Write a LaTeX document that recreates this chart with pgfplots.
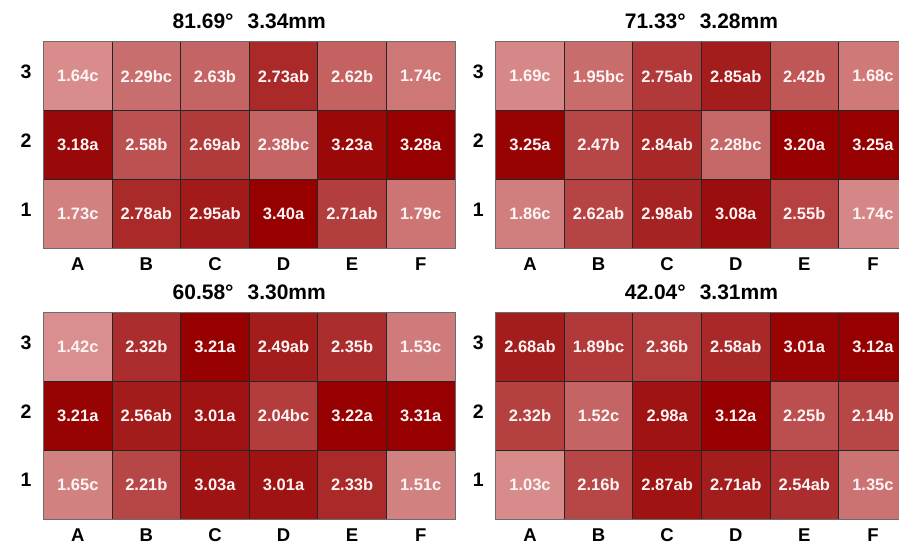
\documentclass[border=0pt]{standalone}
\usepackage{pgfplots}
\pgfplotsset{compat=1.18}
\usepackage{pgfplotstable}
\usepackage{fontspec}
\setmainfont{Liberation Sans}

\pgfplotstableread{
x y v g s
0 1 1.73 c 0.10
1 1 2.78 ab 0.70
2 1 2.95 ab 0.81
3 1 3.40 a 1.00
4 1 2.71 ab 0.56
5 1 1.79 c 0.18
0 2 3.18 a 0.93
1 2 2.58 b 0.43
2 2 2.69 ab 0.59
3 2 2.38 bc 0.30
4 2 3.23 a 0.94
5 2 3.28 a 1.00
0 3 1.64 c 0.02
1 3 2.29 bc 0.23
2 3 2.63 b 0.30
3 3 2.73 ab 0.70
4 3 2.62 b 0.31
5 3 1.74 c 0.17
}\tabA

\pgfplotstableread{
x y v g s
0 1 1.86 c 0.12
1 1 2.62 ab 0.52
2 1 2.98 ab 0.75
3 1 3.08 a 0.90
4 1 2.55 b 0.54
5 1 1.74 c 0.06
0 2 3.25 a 0.98
1 2 2.47 b 0.50
2 2 2.84 ab 0.72
3 2 2.28 bc 0.27
4 2 3.20 a 1.00
5 2 3.25 a 1.00
0 3 1.69 c 0.05
1 3 1.95 bc 0.24
2 3 2.75 ab 0.60
3 3 2.85 ab 0.79
4 3 2.42 b 0.39
5 3 1.68 c 0.15
}\tabB

\pgfplotstableread{
x y v g s
0 1 1.65 c 0.10
1 1 2.21 b 0.50
2 1 3.03 a 0.86
3 1 3.01 a 0.86
4 1 2.33 b 0.70
5 1 1.51 c 0.10
0 2 3.21 a 0.98
1 2 2.56 ab 0.80
2 2 3.01 a 0.87
3 2 2.04 bc 0.57
4 2 3.22 a 1.00
5 2 3.31 a 1.00
0 3 1.42 c 0.00
1 3 2.32 b 0.68
2 3 3.21 a 1.00
3 3 2.49 ab 0.79
4 3 2.35 b 0.68
5 3 1.53 c 0.14
}\tabC

\pgfplotstableread{
x y v g s
0 1 1.03 c 0.03
1 1 2.16 b 0.50
2 1 2.87 ab 0.86
3 1 2.71 ab 0.79
4 1 2.54 ab 0.68
5 1 1.35 c 0.20
0 2 2.32 b 0.55
1 2 1.52 c 0.30
2 2 2.98 a 0.86
3 2 3.12 a 1.00
4 2 2.25 b 0.45
5 2 2.14 b 0.50
0 3 2.68 ab 0.79
1 3 1.89 bc 0.60
2 3 2.36 b 0.58
3 3 2.58 ab 0.71
4 3 3.01 a 0.97
5 3 3.12 a 1.00
}\tabD

\pgfplotsset{
  /pgf/number format/assume math mode=true,
  colormap={reds}{rgb255(0cm)=(217,143,143); rgb255(1cm)=(150,0,0)},
  hm/.style={
    width=411.5pt, height=206.6pt, scale only axis, anchor=south west,
    xmin=-0.5, xmax=5.5, ymin=0.5, ymax=3.5,
    xtick={0,1,2,3,4,5}, xticklabels={A,B,C,D,E,F},
    ytick={1,2,3}, yticklabels={1,2,3},
    major tick length=0pt, minor tick length=0pt,
    tick style={draw=none},
    minor xtick={0.5,1.5,2.5,3.5,4.5}, minor ytick={1.5,2.5},
    xminorgrids, yminorgrids,
    minor grid style={draw=black!85, line width=0.8pt},
    axis on top,
    axis line style={draw=gray!85!black, line width=0.8pt},
    point meta min=0, point meta max=1,
    colormap name=reds,
    ticklabel style={font=\bfseries\fontsize{18.5}{20}\selectfont},
    xticklabel style={anchor=base, yshift=-22.7pt},
    yticklabel style={font=\bfseries\fontsize{19.5}{21}\selectfont, anchor=east, xshift=-8.5pt, yshift=4.5pt},
    title style={font=\bfseries\fontsize{21}{24}\selectfont, anchor=base, at={(0.5,1)}, yshift=7pt},
  },
  cells/.style={matrix plot*, mesh/cols=6, point meta=\thisrow{s}},
  labs/.style={only marks, mark=none, point meta=explicit symbolic,
    visualization depends on={\thisrow{v}\as\val},
    nodes near coords={\pgfmathprintnumber[fixed,fixed zerofill,precision=2]{\val}\pgfplotspointmeta},
    nodes near coords align={center},
    every node near coord/.append style={text=white!96!red, font=\bfseries\fontsize{16.5}{18}\selectfont}},
}

\begin{document}
\begin{tikzpicture}
\begin{axis}[hm, at={(43.5pt,294.7pt)}, title={81.69°\hspace{14pt}3.34mm}]
\addplot[cells] table[x=x,y=y] {\tabA};
\addplot[labs] table[x=x,y=y,meta=g] {\tabA};
\end{axis}
\begin{axis}[hm, at={(495.7pt,294.7pt)}, title={71.33°\hspace{14pt}3.28mm}]
\addplot[cells] table[x=x,y=y] {\tabB};
\addplot[labs] table[x=x,y=y,meta=g] {\tabB};
\end{axis}
\begin{axis}[hm, at={(43.5pt,24pt)}, title={60.58°\hspace{14pt}3.30mm}]
\addplot[cells] table[x=x,y=y] {\tabC};
\addplot[labs] table[x=x,y=y,meta=g] {\tabC};
\end{axis}
\begin{axis}[hm, at={(495.7pt,24pt)}, title={42.04°\hspace{14pt}3.31mm}]
\addplot[cells] table[x=x,y=y] {\tabD};
\addplot[labs] table[x=x,y=y,meta=g] {\tabD};
\end{axis}
\pgfresetboundingbox
\useasboundingbox (0,0) rectangle (899pt,543pt);
\end{tikzpicture}
\end{document}
